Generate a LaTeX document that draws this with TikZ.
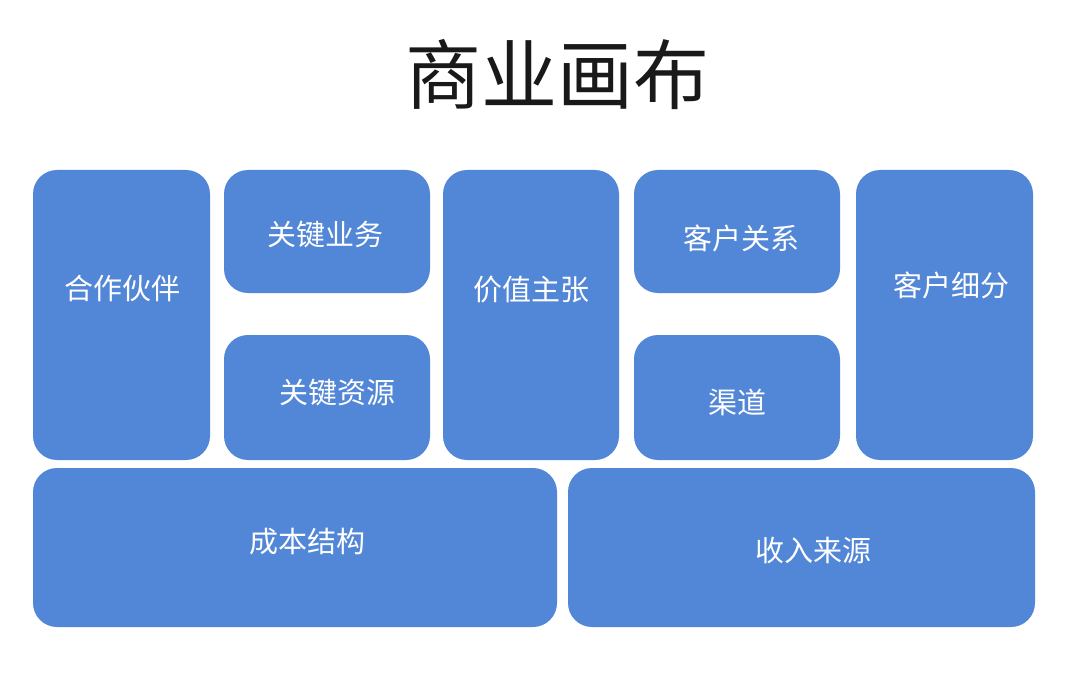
\documentclass[tikz,border=0pt]{standalone}
\usepackage{fontspec}
\setmainfont{Noto Sans CJK SC}
\newfontfamily\cjk{Noto Sans CJK SC}
\definecolor{boxblue}{HTML}{5286D7}
\begin{document}
\begin{tikzpicture}[x=1pt,y=-1pt,
  blk/.style={fill=boxblue, draw=none, rounded corners=24pt, inner sep=0pt},
  lbl/.style={text=white, font=\cjk\fontsize{29}{33}\selectfont, inner sep=0pt},
  ttl/.style={text=black!90, font=\cjk\fontsize{76}{80}\selectfont, inner sep=0pt}]
\useasboundingbox[fill=white] (0,0) rectangle (1080,690);
\node[ttl] (title) at (557,75) {商业画布};
% boxes
\newcommand{\blkbox}[5]{\node[blk, minimum width={#3-#1}, minimum height={#4-#2}] (#5) at ({(#1+#3)/2},{(#2+#4)/2}) {};}
\blkbox{33}{170}{210}{460}{kp}
\blkbox{224}{170}{430}{293}{ka}
\blkbox{224}{335}{430}{460}{kr}
\blkbox{443}{170}{619}{460}{vp}
\blkbox{634}{170}{840}{293}{cr}
\blkbox{634}{335}{840}{460}{ch}
\blkbox{856}{170}{1033}{460}{cs}
\blkbox{33}{468}{557}{627}{cost}
\blkbox{568}{468}{1035}{627}{rev}
% labels
\node[lbl] (kpt) at (122,288) {合作伙伴};
\node[lbl] (kat) at (325,235) {关键业务};
\node[lbl] (krt) at (337,393) {关键资源};
\node[lbl] (vpt) at (531,290) {价值主张};
\node[lbl] (crt) at (741,238) {客户关系};
\node[lbl] (cht) at (737,402) {渠道};
\node[lbl] (cst) at (951,285) {客户细分};
\node[lbl] (costt) at (307,542) {成本结构};
\node[lbl] (revt) at (813,550) {收入来源};
\end{tikzpicture}
\end{document}
